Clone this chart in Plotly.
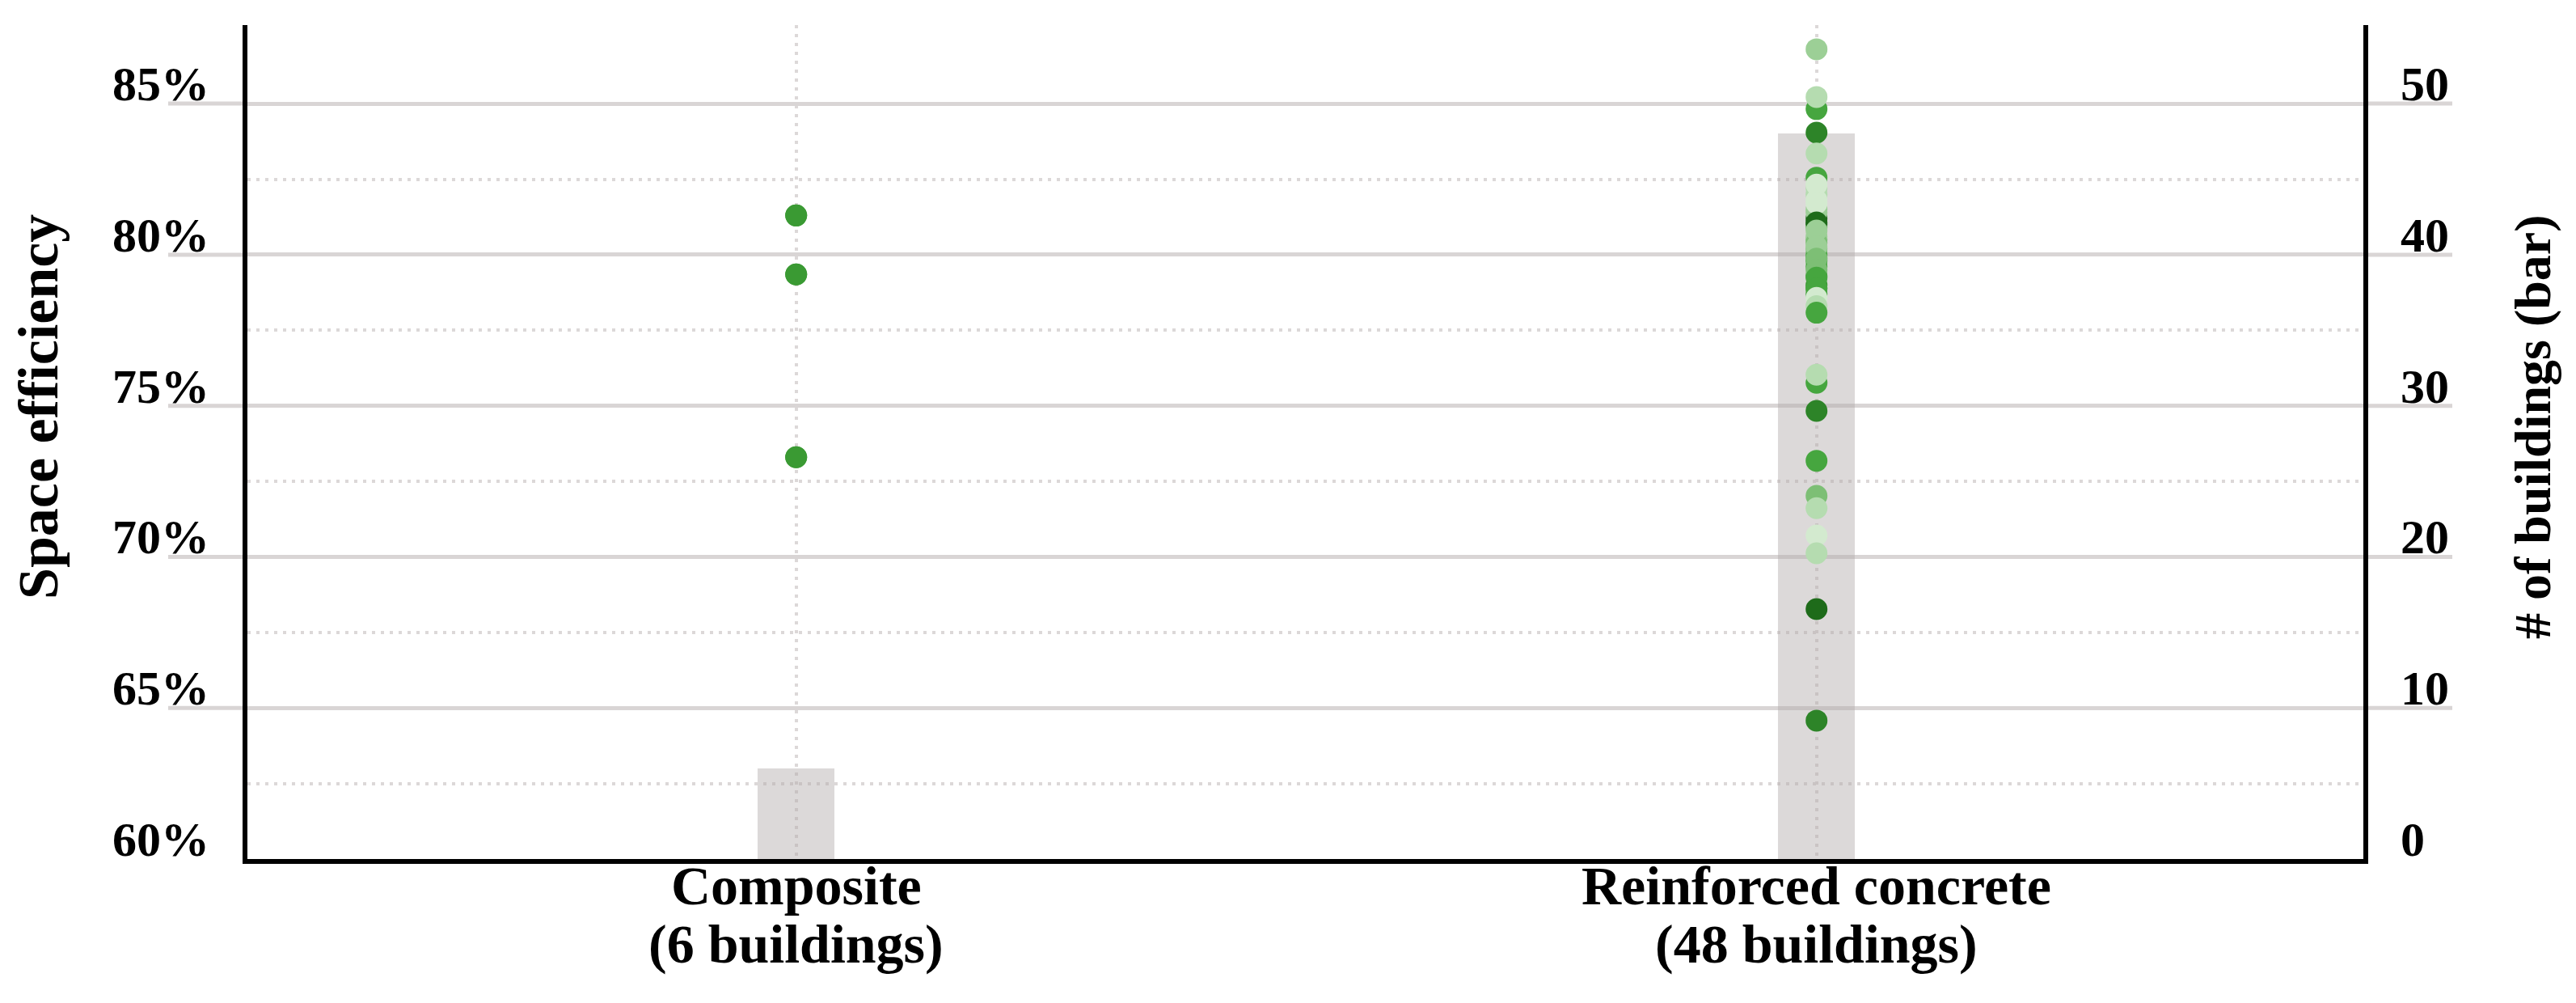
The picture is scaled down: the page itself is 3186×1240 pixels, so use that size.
import plotly.graph_objects as go

# ---------------- data ----------------
categories = ["Composite", "Reinforced concrete"]
building_counts = [6, 48]

composite_eff = [81.3, 81.3, 79.35, 79.35, 73.3, 73.3]
composite_shade = [5, 5, 5, 5, 5, 5]

# reinforced concrete: first values are the (hidden) overlapping ones in the dense cluster
rc_eff = [80.0, 80.5, 81.0, 79.6, 79.0, 81.5, 82.0, 80.2, 79.8, 80.6,
          81.2, 79.3, 78.7, 80.9, 81.4, 79.9, 80.4, 82.2, 78.9, 81.8,
          86.8, 84.82, 85.22, 84.04, 83.35, 82.55, 82.32, 81.7, 81.07, 80.8,
          80.27, 79.87, 79.5, 79.24, 78.88, 78.57, 78.3, 78.08, 75.76, 76.03,
          74.83, 73.18, 72.02, 71.61, 70.71, 70.12, 68.27, 64.58]
rc_shade = [4, 3, 6, 4, 5, 2, 1, 3, 4, 2,
            7, 5, 4, 3, 2, 4, 3, 1, 5, 0,
            2, 4, 1, 6, 1, 4, 0, 0, 7, 2,
            2, 3, 3, 4, 4, 0, 1, 4, 4, 1,
            6, 4, 3, 1, 0, 1, 7, 6]

left_ticks = [60, 65, 70, 75, 80, 85]
left_ticktext = [f"{v}%" for v in left_ticks]
right_ticks = [0, 10, 20, 30, 40, 50]
right_minor = [5, 15, 25, 35, 45]

left_title = "Space efficiency"
right_title = "# of buildings (bar)"

# ---------------- styles ----------------
shade_colors = ["#d3eacf", "#b5dcb0", "#9ccf96", "#7dbf75",
                "#46a63f", "#3a9a33", "#2d8428", "#1e6b1a"]
FONT = "Liberation Serif"
GRID = "#d9d5d5"
DOT = "#dcd8d8"

W, H = 3186, 1240
L, R, T, B = 306, 263, 31, 178
plot_w = W - L - R
plot_h = H - T - B
RIGHT_MAX = 55.2

fig = go.Figure()

fig.add_trace(go.Bar(
    x=categories, y=building_counts, yaxis="y",
    width=0.0753,
    marker=dict(color="rgba(178,170,170,0.45)", line=dict(width=0)),
    showlegend=False, hoverinfo="y",
))

fig.add_trace(go.Scatter(
    x=[categories[0]] * len(composite_eff), y=composite_eff, yaxis="y2",
    mode="markers",
    marker=dict(size=27, color=[shade_colors[s] for s in composite_shade],
                opacity=1, line=dict(width=0)),
    showlegend=False,
))
fig.add_trace(go.Scatter(
    x=[categories[1]] * len(rc_eff), y=rc_eff, yaxis="y2",
    mode="markers",
    marker=dict(size=27, color=[shade_colors[s] for s in rc_shade],
                opacity=1, line=dict(width=0)),
    showlegend=False,
))

tickfont = dict(family=FONT, size=60, color="black", weight="bold")

fig.update_layout(
    width=W, height=H,
    margin=dict(l=L, r=R, t=T, b=B, autoexpand=False),
    paper_bgcolor="white", plot_bgcolor="white",
    bargap=0,
    xaxis=dict(
        type="category", range=[-0.5378, 1.5359],
        showgrid=True, gridcolor=DOT, gridwidth=4, griddash="4px,7px",
        showline=True, linecolor="black", linewidth=6,
        showticklabels=False, ticks="", zeroline=False, fixedrange=True,
    ),
    yaxis=dict(
        side="right", range=[0, RIGHT_MAX],
        tickmode="array", tickvals=right_ticks, tickfont=tickfont,
        showgrid=True, gridcolor=GRID, gridwidth=5,
        minor=dict(tickmode="array", tickvals=right_minor, showgrid=True,
                   gridcolor=DOT, gridwidth=4, griddash="4px,7px", ticks=""),
        showline=True, linecolor="black", linewidth=6,
        ticks="", ticklabelstandoff=28, ticklabelshift=-25,
        zeroline=False,
    ),
    yaxis2=dict(
        overlaying="y", side="left", range=[60, 87.6],
        tickmode="array", tickvals=left_ticks, ticktext=left_ticktext,
        tickfont=tickfont,
        showgrid=False,
        showline=True, linecolor="black", linewidth=6,
        ticks="", ticklabelstandoff=29, ticklabelshift=-25,
        zeroline=False,
    ),
)

# gridline extensions under the tick labels
for v in right_ticks[1:]:
    yp = v / RIGHT_MAX
    fig.add_shape(type="line", xref="paper", yref="paper", x0=(208 - L) / plot_w, x1=0,
                  y0=yp, y1=yp, line=dict(color=GRID, width=5), layer="below")
    fig.add_shape(type="line", xref="paper", yref="paper", x0=1, x1=(3033 - L) / plot_w,
                  y0=yp, y1=yp, line=dict(color=GRID, width=5), layer="below")

# category labels (two lines)
CAT_FONT = dict(family=FONT, size=68, color="black", weight="bold")
for cat, n in zip(categories, building_counts):
    fig.add_annotation(x=cat, xref="x", y=0, yref="paper", yanchor="middle",
                       yshift=-33, text=cat, showarrow=False, font=CAT_FONT)
    fig.add_annotation(x=cat, xref="x", y=0, yref="paper", yanchor="middle",
                       yshift=-105, text=f"({n} buildings)", showarrow=False,
                       font=CAT_FONT)

# axis titles
TITLE_FONT = dict(family=FONT, size=70, color="black", weight="bold")
fig.add_annotation(x=(47 - L) / plot_w, xref="paper", y=(H - B - 503) / plot_h, yref="paper",
                   text=left_title, textangle=-90, showarrow=False,
                   xanchor="center", yanchor="middle", font=TITLE_FONT)
fig.add_annotation(x=(3132 - L) / plot_w, xref="paper", y=(H - B - 528) / plot_h, yref="paper",
                   text=right_title, textangle=-90, showarrow=False,
                   xanchor="center", yanchor="middle",
                   font=dict(family=FONT, size=64, color="black", weight="bold"))

fig.write_html("out.html",
               config={"displayModeBar": False},
               post_script="document.body.style.margin='0px';")
